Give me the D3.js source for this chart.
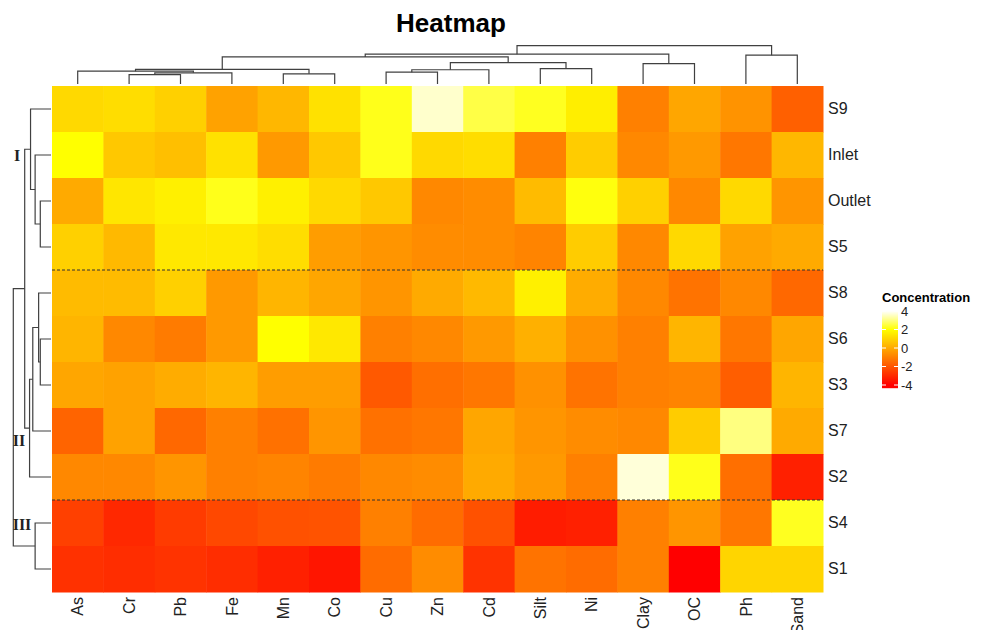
<!DOCTYPE html>
<html>
<head>
<meta charset="utf-8">
<script src="https://cdn.jsdelivr.net/npm/d3@7"></script>
<style>
  body { margin: 0; background: #fff; }
  svg { font-family: "Liberation Sans", Arial, sans-serif; }
</style>
</head>
<body>
<svg id="chart" width="986" height="630"></svg>
<script>
// rows and columns in displayed (clustered) order
var rows = ["S9", "Inlet", "Outlet", "S5", "S8", "S6", "S3", "S7", "S2", "S4", "S1"];
var cols = ["As", "Cr", "Pb", "Fe", "Mn", "Co", "Cu", "Zn", "Cd", "Silt", "Ni", "Clay", "OC", "Ph", "Sand"];

// scaled concentration per sample (same order as cols)
var S9     = [1.1, 1.2, 0.9, -0.2, 0.3, 1.3, 2.2, 3.6, 2.55, 2.25, 1.6, -1.0, -0.1, -0.55, -1.75];
var Inlet  = [2.0, 0.7, 0.5, 1.3, -0.4, 0.7, 2.2, 1.1, 1.2, -1.0, 0.8, -0.8, -0.4, -1.2, 0.3];
var Outlet = [0.0, 1.4, 1.65, 2.2, 1.65, 1.1, 0.7, -0.8, -0.7, 0.4, 2.1, 0.9, -0.8, 1.1, -0.5];
var S5     = [0.9, 0.35, 1.45, 1.45, 1.2, -0.3, -0.5, -0.7, -0.7, -0.9, 0.8, -0.8, 1.1, -0.2, 0.0];
var S8     = [0.4, 0.4, 0.9, -0.4, 0.25, -0.1, -0.5, 0.0, 0.35, 1.65, 0.05, -0.8, -1.3, -0.8, -1.55];
var S6     = [0.25, -0.8, -1.1, -0.4, 2.0, 1.45, -1.0, -0.8, -0.4, 0.15, -0.6, -1.0, 0.25, -1.2, -0.1];
var S3     = [-0.1, -0.2, 0.05, 0.25, -0.3, -0.3, -1.9, -1.4, -1.2, -0.6, -1.3, -1.0, -0.9, -1.8, 0.25];
var S7     = [-1.65, -0.2, -1.55, -1.0, -1.35, -0.5, -1.35, -1.2, -0.1, -0.5, -0.7, -0.8, 0.8, 3.0, 0.0];
var S2     = [-0.8, -0.8, -0.5, -1.0, -0.9, -1.1, -0.8, -0.7, 0.0, -0.4, -1.0, 3.7, 2.2, -1.4, -3.25];
var S4     = [-2.5, -3.05, -2.6, -2.3, -2.1, -2.05, -1.0, -1.45, -2.1, -3.35, -3.25, -1.0, -0.5, -1.2, 2.25];
var S1     = [-2.85, -2.95, -2.8, -2.95, -3.25, -3.5, -1.45, -0.7, -2.8, -1.3, -1.45, -1.0, -4.0, 1.0, 1.0];
var values = [S9, Inlet, Outlet, S5, S8, S6, S3, S7, S2, S4, S1];

// hclust-like merges: string = leaf, number = earlier merge, last = height
var colMerges = [
  ["Cr", "Pb", 2.47], [0, "Fe", 2.93], ["Mn", "Co", 2.66], ["As", 1, 3.35], [3, 2, 3.8],
  ["Cu", "Zn", 3.09], [5, "Cd", 3.72], ["Silt", "Ni", 3.99], [6, 7, 5.59], [4, 8, 7.07],
  ["Clay", "OC", 5.32], [9, 10, 7.79], ["Ph", "Sand", 7.53], [11, 12, 10]
];
var rowMerges = [
  ["Outlet", "S5", 11], ["Inlet", 0, 16.3], ["S9", 1, 21], ["S6", "S3", 11], ["S8", 3, 12.7],
  [4, "S7", 18.7], [5, "S2", 22], [2, 6, 27], ["S4", "S1", 16.3], [7, 8, 38.7]
];

var splitAfter = ["S5", "S2"];
var legendTicks = [-4, -2, 0, 2, 4];
var groupLabels = ["I", "II", "III"];

var svg = d3.select("#chart");
var hmLeft = 52, hmRight = 823, hmTop = 86, hmBottom = 592;

var x = d3.scaleBand().domain(cols).range([hmLeft, hmRight]);
var y = d3.scaleBand().domain(rows).range([hmTop, hmBottom]);
var color = d3.scaleLinear()
  .domain([-4, 2, 4])
  .range(["#ff0000", "#ffff00", "#ffffff"])
  .clamp(true);

// title
svg.append("text")
  .attr("x", 451).attr("y", 32)
  .attr("text-anchor", "middle")
  .style("font-size", "26px").style("font-weight", "bold")
  .text("Heatmap");

// cells
var cells = [];
values.forEach(function (r, i) {
  r.forEach(function (v, j) { cells.push({ row: rows[i], col: cols[j], v: v }); });
});
svg.append("g").selectAll("rect")
  .data(cells)
  .enter()
  .append("rect")
  .attr("x", function (d) { return x(d.col); })
  .attr("y", function (d) { return y(d.row); })
  .attr("width", x.bandwidth() + 0.5)
  .attr("height", y.bandwidth() + 0.5)
  .attr("fill", function (d) { return color(d.v); });

// dashed split lines
svg.append("g").selectAll("line")
  .data(splitAfter)
  .enter()
  .append("line")
  .attr("x1", hmLeft).attr("x2", hmRight)
  .attr("y1", function (d) { return y(d) + y.bandwidth(); })
  .attr("y2", function (d) { return y(d) + y.bandwidth(); })
  .attr("stroke", "#333").attr("stroke-width", 1)
  .attr("stroke-dasharray", "3,2");

// dendrogram helper
function buildTree(merges, leafPos) {
  var nodes = [];
  function get(ref) { return typeof ref === "string" ? { p: leafPos(ref), h: 0 } : nodes[ref]; }
  merges.forEach(function (m) {
    var a = get(m[0]), b = get(m[1]);
    nodes.push({ p: (a.p + b.p) / 2, h: m[2], a: a, b: b });
  });
  return nodes;
}

// column dendrogram (top)
var colH = d3.scaleLinear().domain([0, 10]).range([84, 45.7]);
var colNodes = buildTree(colMerges, function (c) { return x(c) + x.bandwidth() / 2; });
svg.append("g").selectAll("path")
  .data(colNodes)
  .enter()
  .append("path")
  .attr("d", function (n) {
    return "M" + n.a.p + "," + colH(n.a.h) + "V" + colH(n.h) + "H" + n.b.p + "V" + colH(n.b.h);
  })
  .attr("fill", "none").attr("stroke", "#404040").attr("stroke-width", 1.2);

// row dendrogram (left)
var rowH = d3.scaleLinear().domain([0, 38.7]).range([51, 13.3]);
var rowNodes = buildTree(rowMerges, function (r) { return y(r) + y.bandwidth() / 2; });
svg.append("g").selectAll("path")
  .data(rowNodes)
  .enter()
  .append("path")
  .attr("d", function (n) {
    return "M" + rowH(n.a.h) + "," + n.a.p + "H" + rowH(n.h) + "V" + n.b.p + "H" + rowH(n.b.h);
  })
  .attr("fill", "none").attr("stroke", "#404040").attr("stroke-width", 1.2);

// cluster numerals
var numeralPos = [[17, 155], [19, 440], [22, 524]];
svg.append("g").selectAll("text")
  .data(groupLabels)
  .enter()
  .append("text")
  .attr("x", function (d, i) { return numeralPos[i][0]; })
  .attr("y", function (d, i) { return numeralPos[i][1]; })
  .attr("text-anchor", "middle").attr("dy", "0.35em")
  .style("font-family", "'Liberation Serif', 'Times New Roman', serif")
  .style("font-size", "16px").style("font-weight", "bold").style("fill", "#222")
  .text(function (d) { return d; });

// column labels
var xAxis = svg.append("g")
  .attr("transform", "translate(0," + hmBottom + ")")
  .call(d3.axisBottom(x).tickSize(0));
xAxis.select(".domain").remove();
xAxis.selectAll("text")
  .attr("y", 0).attr("x", -5).attr("dy", "0.35em")
  .attr("transform", "rotate(-90)")
  .style("text-anchor", "end")
  .style("font-size", "16px").style("font-family", "'Liberation Sans', Arial, sans-serif")
  .style("fill", "#222");

// row labels
var yAxis = svg.append("g")
  .attr("transform", "translate(" + hmRight + ",0)")
  .call(d3.axisRight(y).tickSize(0).tickPadding(5));
yAxis.select(".domain").remove();
yAxis.selectAll("text")
  .style("font-size", "16px").style("font-family", "'Liberation Sans', Arial, sans-serif")
  .style("fill", "#222");

// legend
var lx = 882, lw = 16;
var legY = d3.scaleLinear().domain([-4, 4]).range([385, 311]);
var leg = svg.append("g");
leg.append("text")
  .attr("x", lx).attr("y", 302)
  .style("font-size", "13px").style("font-weight", "bold")
  .text("Concentration");
leg.selectAll("rect.strip")
  .data(d3.range(308, 388))
  .enter()
  .append("rect")
  .attr("class", "strip")
  .attr("x", lx).attr("y", function (d) { return d; })
  .attr("width", lw).attr("height", 1.2)
  .attr("fill", function (d) { return color(legY.invert(d + 0.5)); });
leg.selectAll("path.tk")
  .data(legendTicks)
  .enter()
  .append("path")
  .attr("class", "tk")
  .attr("d", function (d) {
    var yy = legY(d);
    return "M" + lx + "," + yy + "h4M" + (lx + lw - 4) + "," + yy + "h4";
  })
  .attr("stroke", "#fff").attr("stroke-width", 1);
leg.selectAll("text.lab")
  .data(legendTicks)
  .enter()
  .append("text")
  .attr("class", "lab")
  .attr("x", lx + lw + 3)
  .attr("y", function (d) { return legY(d); })
  .attr("dy", "0.35em")
  .style("font-size", "13px").style("fill", "#222")
  .text(function (d) { return d; });
</script>
</body>
</html>
